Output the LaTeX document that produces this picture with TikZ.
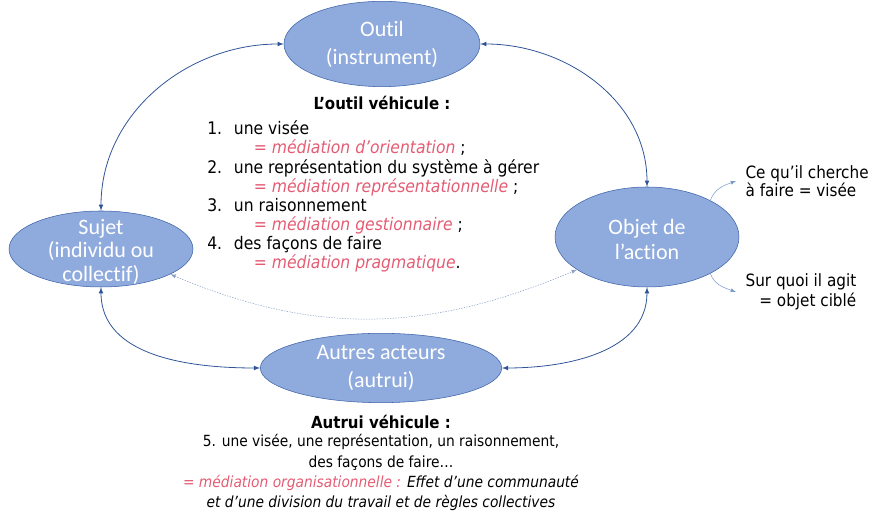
\documentclass[tikz,border=0pt]{standalone}
\usepackage{fontspec}
\setmainfont{DejaVu Sans Condensed}
\newfontfamily\calfont[Ligatures=NoCommon]{Carlito}
\usetikzlibrary{arrows,positioning,shapes.geometric}
\definecolor{polefill}{RGB}{143,170,220}
\definecolor{poleline}{RGB}{60,98,168}
\definecolor{linkblue}{RGB}{47,85,151}
\definecolor{hintblue}{RGB}{120,155,205}
\definecolor{dotgrey}{RGB}{140,160,200}
\definecolor{medred}{RGB}{228,92,115}
\tikzset{
    pole/.style={ellipse,draw=poleline,fill=polefill,inner sep=0pt},
    poletext/.style={text=white,align=center,inner sep=0pt,font=\calfont\fontsize{16.5}{#1}\selectfont},
    poletext/.default=17.5,
    bi/.style={<->,semithick,>=latex,draw=linkblue},
    faint/.style={<->,dash pattern=on 1pt off 1pt,>=latex,draw=dotgrey},
    hint/.style={->,>=latex,draw=hintblue},
    note/.style={inner sep=0pt,font=\fontsize{11.5}{14}\selectfont},
    head/.style={inner sep=0pt,font=\bfseries\fontsize{12.5}{15}\selectfont}
}
\newcommand{\med}[1]{\textcolor{medred}{\textit{#1}}}

\begin{document}
\begin{tikzpicture}[x=0.75pt,y=0.75pt]
\useasboundingbox (0,0) rectangle (879,516);
% les quatre poles
\node[pole,minimum width=147pt,minimum height=64pt,
    label={[poletext=21]center:{Outil\\(instrument)}}] (outil) at (382,472) {};
\node[pole,minimum width=138pt,minimum height=57pt,
    label={[poletext,yshift=-2pt]center:{Sujet\\(individu ou\\collectif)}}] (sujet) at (101,267) {};
\node[pole,minimum width=138pt,minimum height=75pt,
    label={[poletext=18.7,yshift=-2pt]center:{Objet de\\l’action}}] (objet) at (647,279) {};
\node[pole,minimum width=181pt,minimum height=52pt,
    label={[poletext=21]center:{Autres acteurs\\(autrui)}}] (autres) at (381,148) {};

% liens
\draw[bi] (sujet.north) to[out=90,in=180] (outil.west);
\draw[bi] (outil.east) to[out=0,in=90] (objet.north);
\draw[bi] (sujet.south) to[out=-90,in=180] (autres.west);
\draw[bi] (autres.east) to[out=0,in=-90] (objet.south);
\draw[faint] (sujet.-20) to[out=-23,in=-157] (objet.205);

% l'outil
\node[head,below=7pt of outil] (outilveh) {L’outil véhicule :};
\node[note,font=\fontsize{13}{14}\selectfont,anchor=north west] (liste) at (207,396) {%
  \begin{tabular}{@{}p{20pt}@{}l@{}}
  1. & une visée\\
     & \hspace{15pt}\med{= médiation d’orientation} ;\\
  2. & une représentation du système à gérer\\
     & \hspace{15pt}\med{= médiation représentationnelle} ;\\
  3. & un raisonnement\\
     & \hspace{15pt}\med{= médiation gestionnaire} ;\\
  4. & des façons de faire\\
     & \hspace{15pt}\med{= médiation pragmatique}.
  \end{tabular}};

% autrui
\node[head,below=9pt of autres] (autruiveh) {Autrui véhicule :};
\node[note,align=center,font=\fontsize{11.5}{15.2}\selectfont,below=4pt of autruiveh] (autrui) {%
  5. une visée, une représentation, un raisonnement,\\
  des façons de faire…\\
  \med{= médiation organisationnelle :} \textit{Effet d’une communauté}\\
  \textit{et d’une division du travail et de règles collectives}};

% objet de l'action
\node[note,font=\fontsize{12.7}{13.5}\selectfont,align=left,anchor=west,inner sep=7pt] (vise) at (736,335) {Ce qu’il cherche\\à faire = visée};
\node[note,font=\fontsize{12.7}{14.5}\selectfont,align=right,anchor=west,inner sep=7pt] (cible) at (736,224) {Sur quoi il agit\\= objet ciblé};
\draw[hint] (objet.30) to[out=70,in=200] (vise.west);
\draw[hint] (objet.-30) to[out=-70,in=160] (cible.west);
\end{tikzpicture}
\end{document}
